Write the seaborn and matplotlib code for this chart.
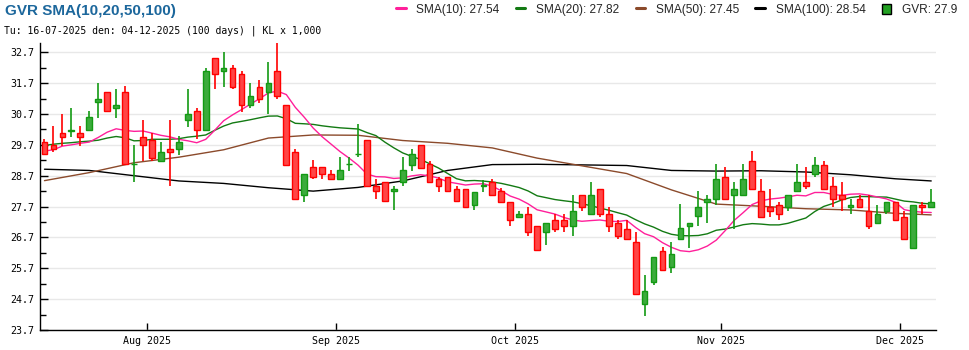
import numpy as np
import pandas as pd
import matplotlib
matplotlib.use("Agg")
import matplotlib.pyplot as plt
import seaborn as sns
from matplotlib.lines import Line2D
from matplotlib.patches import Patch

# ---------------- data ----------------
ticker = "GVR"
start_date = "2025-07-16"
end_date = "2025-12-04"
holidays = ["2025-09-01", "2025-09-02"]

open_ = [29.78, 29.68, 30.07, 30.16, 30.07, 30.17, 31.08, 31.40, 30.88, 31.40,
         29.07, 29.96, 29.87, 29.18, 29.58, 29.58, 30.50, 30.80, 30.17, 32.50,
         32.08, 32.18, 31.99, 30.98, 31.59, 31.40, 32.08, 30.98, 29.47, 28.09,
         28.97, 28.97, 28.77, 28.58, 29.07, 29.40, 29.87, 28.38, 28.49, 28.20,
         28.49, 29.06, 29.68, 29.07, 28.58, 28.67, 28.28, 28.28, 27.76, 28.38,
         28.49, 28.19, 27.86, 27.37, 27.47, 27.07, 26.86, 27.28, 27.28, 27.08,
         28.09, 27.47, 28.28, 27.47, 27.18, 26.98, 26.55, 24.55, 25.26, 26.27,
         25.75, 26.66, 27.08, 27.38, 27.86, 27.96, 28.67, 28.09, 28.09, 29.19,
         28.19, 27.67, 27.76, 27.67, 28.19, 28.48, 28.77, 29.06, 28.38, 28.09,
         27.67, 27.96, 27.57, 27.18, 27.57, 27.86, 27.37, 26.37, 27.76, 27.67]
high = [29.89, 30.31, 30.70, 30.89, 30.31, 30.80, 31.72, 31.40, 31.51, 31.61,
        29.69, 30.50, 30.07, 29.79, 30.50, 29.98, 31.51, 30.88, 32.18, 32.50,
        32.70, 32.29, 32.08, 31.70, 31.80, 32.39, 32.99, 30.98, 29.58, 28.77,
        29.20, 28.97, 28.88, 29.29, 29.29, 30.39, 29.87, 28.58, 28.49, 28.38,
        29.29, 29.58, 29.68, 29.18, 28.67, 28.67, 28.38, 28.28, 28.18, 28.55,
        28.58, 28.29, 27.86, 27.57, 27.68, 27.07, 27.18, 27.47, 27.47, 28.09,
        28.09, 28.49, 28.28, 27.68, 27.28, 27.28, 26.86, 25.47, 26.08, 26.38,
        26.56, 27.78, 27.18, 28.19, 28.09, 29.07, 28.98, 28.48, 29.07, 29.50,
        28.58, 28.28, 27.86, 28.09, 29.07, 28.97, 29.29, 29.19, 28.67, 28.48,
        27.96, 28.09, 28.09, 27.76, 27.86, 27.86, 27.57, 27.76, 27.86, 28.28]
low = [29.39, 29.47, 29.66, 29.96, 29.66, 30.17, 30.58, 30.80, 30.58, 29.07,
       28.48, 29.18, 29.18, 29.18, 28.37, 29.37, 30.29, 29.88, 30.17, 31.50,
       31.59, 31.50, 30.77, 30.88, 31.07, 30.69, 31.17, 29.06, 27.96, 27.85,
       28.58, 28.58, 28.58, 28.58, 28.86, 29.29, 28.38, 27.95, 27.87, 27.58,
       28.38, 28.86, 28.96, 28.49, 28.18, 28.20, 27.87, 27.67, 27.58, 28.18,
       28.09, 27.86, 27.07, 27.37, 26.75, 26.28, 26.47, 26.86, 26.86, 26.75,
       27.57, 27.47, 27.37, 26.86, 26.66, 26.66, 24.87, 24.15, 25.17, 25.65,
       25.55, 26.66, 26.36, 27.08, 27.18, 27.76, 27.96, 26.97, 28.09, 28.28,
       27.37, 27.37, 27.28, 27.57, 28.19, 28.28, 28.67, 28.28, 27.67, 27.57,
       27.47, 27.67, 26.97, 27.18, 27.47, 27.28, 26.66, 26.37, 27.47, 27.67]
close = [29.40, 29.57, 29.96, 30.19, 29.96, 30.59, 31.17, 30.80, 30.98, 29.07,
         29.08, 29.68, 29.28, 29.47, 29.47, 29.78, 30.70, 30.17, 32.08, 31.99,
         32.18, 31.59, 30.98, 31.28, 31.17, 31.69, 31.27, 29.06, 27.96, 28.77,
         28.67, 28.77, 28.58, 28.87, 29.08, 29.41, 28.38, 28.20, 27.87, 28.28,
         28.87, 29.39, 28.96, 28.49, 28.38, 28.20, 27.87, 27.67, 28.18, 28.39,
         28.09, 27.86, 27.28, 27.47, 26.86, 26.28, 27.18, 26.97, 27.08, 27.57,
         27.68, 28.09, 27.47, 27.07, 26.76, 26.66, 24.87, 24.97, 26.08, 25.65,
         26.17, 26.99, 27.18, 27.67, 27.96, 28.58, 27.96, 28.28, 28.58, 28.28,
         27.37, 27.57, 27.47, 28.09, 28.48, 28.38, 29.06, 28.28, 27.96, 27.96,
         27.76, 27.67, 27.08, 27.47, 27.86, 27.28, 26.66, 27.76, 27.67, 27.86]

# moving-average values before enough in-window history exists
sma10_head = [29.50, 29.54, 29.66, 29.70, 29.75, 29.79, 29.94, 30.11, 30.22]
sma20_head = [29.68, 29.72, 29.75, 29.77, 29.80, 29.82, 29.85, 29.92, 29.97, 29.93,
              29.83, 29.84, 29.88, 29.88, 29.88, 29.90, 29.95, 29.98, 30.02]
sma_long_idx = [0, 5, 10, 15, 20, 25, 30, 35, 40, 45, 50,
                55, 60, 65, 70, 75, 80, 85, 90, 95, 99]
sma50_pts = [28.54, 28.80, 29.12, 29.30, 29.54, 29.92, 30.02, 30.01, 29.84, 29.75, 29.60,
             29.27, 29.02, 28.77, 28.24, 27.78, 27.71, 27.63, 27.59, 27.48, 27.43]
sma100_pts = [28.91, 28.87, 28.70, 28.53, 28.45, 28.31, 28.20, 28.32, 28.53, 28.87, 29.06,
              29.07, 29.05, 29.03, 28.87, 28.85, 28.86, 28.82, 28.73, 28.60, 28.53]

legend_names = ["SMA(10)", "SMA(20)", "SMA(50)", "SMA(100)"]
legend_vals = ["27.54", "27.82", "27.45", "28.54"]
last_price_label = "GVR: 27.9"
title_text = "GVR SMA(10,20,50,100)"
subtitle_text = "Tu: 16-07-2025 den: 04-12-2025 (100 days) | KL x 1,000"
y_ticks = [23.7, 24.7, 25.7, 26.7, 27.7, 28.7, 29.7, 30.7, 31.7, 32.7]

# ---------------- build frame ----------------
dates = pd.bdate_range(start_date, end_date)
dates = dates[~dates.isin(pd.to_datetime(holidays))]
n = len(dates)
df = pd.DataFrame({"date": dates, "open": open_, "high": high,
                   "low": low, "close": close})
df["i"] = np.arange(n)
s10 = df["close"].rolling(10).mean().to_numpy()
s10[:9] = sma10_head
s20 = df["close"].rolling(20).mean().to_numpy()
s20[:19] = sma20_head
df["sma10"] = s10
df["sma20"] = s20
long_df = pd.DataFrame({"i": sma_long_idx, "sma50": sma50_pts, "sma100": sma100_pts})

# ---------------- style ----------------
sns.set_theme(style="white")
plt.rcParams["font.family"] = ["Liberation Sans", "DejaVu Sans"]

W, H = 970, 350
fig = plt.figure(figsize=(W / 100, H / 100), dpi=100)
L, R, T, B = 40, 935.7, 43, 330
ax = fig.add_axes([L / W, (H - B) / H, (R - L) / W, (B - T) / H])

RED_FILL, RED_EDGE = "#ff4545", "#ff0000"
GRN_FILL, GRN_EDGE = "#3cab3c", "#139a13"
C10, C20, C50, C100 = "#ff1f9a", "#137a13", "#8b4a2b", "#000000"

up = df["close"] >= df["open"]
edge = np.where(up, GRN_EDGE, RED_EDGE)
fill = np.where(up, GRN_FILL, RED_FILL)

# lines (behind the candles)
sns.lineplot(data=long_df, x="i", y="sma100", ax=ax, color=C100, lw=1.0, zorder=2)
sns.lineplot(data=long_df, x="i", y="sma50", ax=ax, color=C50, lw=1.0, zorder=2)
sns.lineplot(data=df, x="i", y="sma20", ax=ax, color=C20, lw=1.0, zorder=2)
sns.lineplot(data=df, x="i", y="sma10", ax=ax, color=C10, lw=1.0, zorder=2)

# candles
ax.vlines(df["i"], df["low"], df["high"], colors=edge, lw=1.2, zorder=3)
body_lo = np.minimum(df["open"], df["close"])
body_h = np.maximum(np.abs(df["close"] - df["open"]), 0.012)
ax.bar(df["i"], body_h, bottom=body_lo, width=0.64, color=fill,
       edgecolor=edge, linewidth=1.0, zorder=4)

# axes
ax.set_xlim(-0.5, n - 0.5)
ax.set_ylim(23.7, 33.0)
ax.set_xlabel("")
ax.set_ylabel("")
months = df["date"].dt.to_period("M")
first_idx = [k for k in range(1, n) if months.iloc[k] != months.iloc[k - 1]]
ax.set_xticks([k - 0.5 for k in first_idx])
ax.set_xticklabels([df["date"].iloc[k].strftime("%b %Y") for k in first_idx])
ax.set_yticks(y_ticks)
ax.set_yticklabels([f"{v:.1f}" for v in y_ticks])
ax.set_yticks([v + 0.5 for v in y_ticks[:-1]], minor=True)
mono = "DejaVu Sans Mono"
for lab in ax.get_xticklabels() + ax.get_yticklabels():
    lab.set_family(mono)
    lab.set_fontsize(7.2)
    lab.set_color("#000000")
ax.tick_params(axis="y", which="major", direction="in", length=6, width=1,
               color="black", pad=4, left=True)
ax.tick_params(axis="y", which="minor", direction="in", length=4, width=1,
               color="black", left=True)
ax.tick_params(axis="x", which="major", direction="in", length=5, width=1,
               color="black", pad=4, bottom=True)
ax.grid(False)
ax.yaxis.grid(True, which="major", color="#e8e8e8", lw=1.0, zorder=0)
ax.set_axisbelow(True)
for side in ["top", "right"]:
    ax.spines[side].set_visible(False)
for side in ["left", "bottom"]:
    ax.spines[side].set_color("black")
    ax.spines[side].set_linewidth(1.0)
ax.set_facecolor("white")

# title & subtitle
fig.text(5 / W, 1 - 11 / H, title_text, fontsize=11, fontweight="bold",
         color="#1c679c", va="center", ha="left")
fig.text(4 / W, 1 - 31 / H, subtitle_text, fontsize=7, family=mono,
         color="#000000", va="center", ha="left")

# legend
handles = [Line2D([0], [0], color=c, lw=2.2) for c in (C10, C20, C50, C100)]
handles.append(Patch(facecolor="#22a022", edgecolor="black", linewidth=1.0))
labels = [f"{nm}: {v}" for nm, v in zip(legend_names, legend_vals)] + [last_price_label]
fig.legend(handles, labels, loc="upper right", bbox_to_anchor=(962 / W, 1 + 1 / H),
           ncol=5, frameon=False, fontsize=8.6, handlelength=0.8,
           handleheight=1.0, handletextpad=0.9, columnspacing=1.35,
           borderaxespad=0.2, borderpad=0.2)

fig.savefig("out.png", dpi=100, facecolor="white")
